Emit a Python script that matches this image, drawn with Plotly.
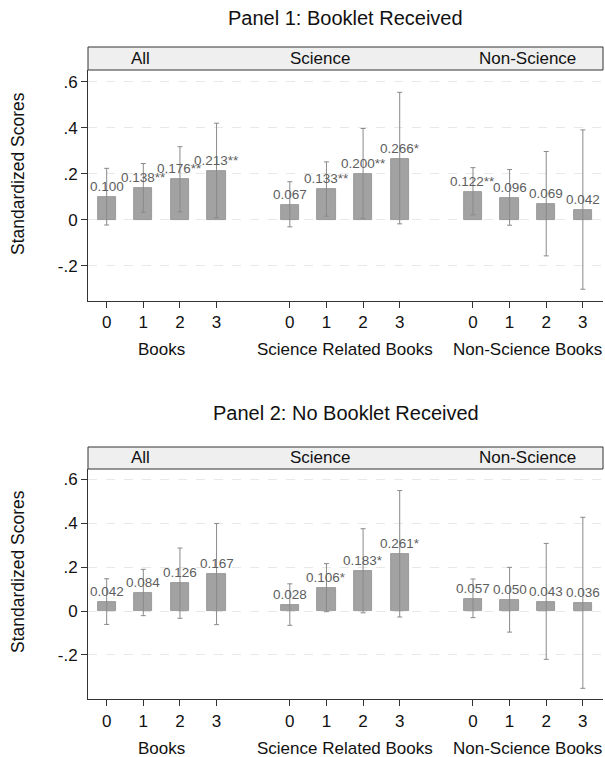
import plotly.graph_objects as go

# ---------------- data ----------------
positions = [0, 1, 2, 3, 5, 6, 7, 8, 10, 11, 12, 13]
tick_text = ["0", "1", "2", "3"] * 3
group_labels = ["Books", "Science Related Books", "Non-Science Books"]
group_centers = [1.5, 6.5, 11.5]
strip_labels = ["All", "Science", "Non-Science"]
strip_x = [0.93, 5.82, 11.5]
panel_titles = ["Panel 1: Booklet Received", "Panel 2: No Booklet Received"]

p1_all = [0.100, 0.138, 0.176, 0.213]
p1_all_hi = [0.224, 0.245, 0.318, 0.420]
p1_all_lo = [-0.022, 0.033, 0.035, 0.010]
p1_all_st = ["", "**", "**", "**"]
p1_sci = [0.067, 0.133, 0.200, 0.266]
p1_sci_hi = [0.166, 0.252, 0.397, 0.554]
p1_sci_lo = [-0.030, 0.016, 0.007, -0.017]
p1_sci_st = ["", "**", "**", "*"]
p1_non = [0.122, 0.096, 0.069, 0.042]
p1_non_hi = [0.227, 0.219, 0.297, 0.391]
p1_non_lo = [0.022, -0.023, -0.156, -0.301]
p1_non_st = ["**", "", "", ""]

p2_all = [0.042, 0.084, 0.126, 0.167]
p2_all_hi = [0.147, 0.190, 0.287, 0.399]
p2_all_lo = [-0.061, -0.021, -0.033, -0.062]
p2_all_st = ["", "", "", ""]
p2_sci = [0.028, 0.106, 0.183, 0.261]
p2_sci_hi = [0.124, 0.216, 0.375, 0.549]
p2_sci_lo = [-0.065, -0.003, -0.008, -0.027]
p2_sci_st = ["", "*", "*", "*"]
p2_non = [0.057, 0.050, 0.043, 0.036]
p2_non_hi = [0.146, 0.199, 0.308, 0.427]
p2_non_lo = [-0.030, -0.096, -0.220, -0.352]
p2_non_st = ["", "", "", ""]

y_tickvals = [-0.2, 0, 0.2, 0.4, 0.6]
y_ticktext = ["-.2", "0", ".2", ".4", ".6"]
y_ranges = [[-0.352, 0.651], [-0.402, 0.647]]

panels = [
    (p1_all + p1_sci + p1_non, p1_all_hi + p1_sci_hi + p1_non_hi,
     p1_all_lo + p1_sci_lo + p1_non_lo, p1_all_st + p1_sci_st + p1_non_st),
    (p2_all + p2_sci + p2_non, p2_all_hi + p2_sci_hi + p2_non_hi,
     p2_all_lo + p2_sci_lo + p2_non_lo, p2_all_st + p2_sci_st + p2_non_st),
]

# ---------------- layout geometry (pixels) ----------------
W, H = 605, 757
FONT = "Liberation Sans, Arial, Helvetica, sans-serif"
x0px, x1px = 88, 603
geo = [
    dict(top=70, bot=301, strip=47, title=18, glabel=350, ytitle=174),
    dict(top=469, bot=699.3, strip=447, title=413, glabel=748, ytitle=572),
]

def py(v):
    return 1 - v / H

fig = go.Figure()
annotations = []
shapes = []

for i, (vals, hi, lo, st) in enumerate(panels):
    xa = "x" if i == 0 else "x2"
    ya = "y" if i == 0 else "y2"
    fig.add_trace(go.Bar(
        x=positions, y=vals, width=0.5,
        marker=dict(color="#a2a2a2", line=dict(color="#8e8e8e", width=0.8)),
        error_y=dict(type="data", symmetric=False,
                     array=[h - v for h, v in zip(hi, vals)],
                     arrayminus=[v - l for v, l in zip(vals, lo)],
                     color="#8a8a8a", thickness=1, width=2.5),
        xaxis=xa, yaxis=ya, showlegend=False, hoverinfo="skip",
    ))
    for xp, v, s in zip(positions, vals, st):
        annotations.append(dict(
            x=xp, y=v, xref=xa, yref=ya, text=f"{v:.3f}{s}",
            showarrow=False, yanchor="bottom", xanchor="center", yshift=1,
            font=dict(size=13.5, color="#5e5e5e", family=FONT)))
    g = geo[i]
    shapes.append(dict(type="rect", xref="paper", yref="paper",
                       x0=x0px / W, x1=x1px / W, y0=py(g["top"]), y1=py(g["strip"]),
                       fillcolor="#efefef", line=dict(color="#333333", width=1), layer="above"))
    for lab, sx in zip(strip_labels, strip_x):
        annotations.append(dict(x=sx, xref=xa, y=py((g["top"] + g["strip"]) / 2), yref="paper",
                                text=lab, showarrow=False, xanchor="center", yanchor="middle",
                                font=dict(size=17, color="#111111", family=FONT)))
    for lab, gx in zip(group_labels, group_centers):
        annotations.append(dict(x=gx, xref=xa, y=py(g["glabel"]), yref="paper",
                                text=lab, showarrow=False, xanchor="center", yanchor="middle",
                                font=dict(size=17, color="#111111", family=FONT)))
    annotations.append(dict(x=0.5 * (x0px + x1px) / W, xref="paper", y=py(g["title"]), yref="paper",
                            text=panel_titles[i], showarrow=False, xanchor="center", yanchor="middle",
                            font=dict(size=20, color="#111111", family=FONT)))
    annotations.append(dict(x=18 / W, xref="paper", y=py(g["ytitle"]), yref="paper",
                            text="Standardized Scores", showarrow=False, textangle=-90,
                            xanchor="center", yanchor="middle",
                            font=dict(size=17.5, color="#111111", family=FONT)))

axis_common_x = dict(range=[-0.51, 13.55], tickmode="array", tickvals=positions, ticktext=tick_text,
                     showline=True, linecolor="#333333", linewidth=1, ticks="outside", ticklen=6,
                     tickcolor="#333333", showgrid=False, zeroline=False, automargin=False,
                     tickfont=dict(size=17, color="#111111", family=FONT),
                     domain=[x0px / W, x1px / W])
axis_common_y = dict(tickmode="array", tickvals=y_tickvals, ticktext=y_ticktext,
                     showline=True, linecolor="#333333", linewidth=1, ticks="outside", ticklen=6,
                     tickcolor="#333333", showgrid=True, gridcolor="#e8e8e8", griddash="dash",
                     gridwidth=1, zeroline=False, automargin=False,
                     tickfont=dict(size=17, color="#111111", family=FONT))

fig.update_layout(
    width=W, height=H,
    margin=dict(l=0, r=0, t=0, b=0),
    paper_bgcolor="white", plot_bgcolor="white",
    xaxis=dict(axis_common_x, anchor="y"),
    xaxis2=dict(axis_common_x, anchor="y2"),
    yaxis=dict(axis_common_y, range=y_ranges[0], anchor="x",
               domain=[py(geo[0]["bot"]), py(geo[0]["top"])]),
    yaxis2=dict(axis_common_y, range=y_ranges[1], anchor="x2",
                domain=[py(geo[1]["bot"]), py(geo[1]["top"])]),
    annotations=annotations,
    shapes=shapes,
    bargap=0,
)

fig.write_html("out.html", config={"displayModeBar": False},
               post_script="document.body.style.margin='0px';document.body.style.overflow='hidden';")
